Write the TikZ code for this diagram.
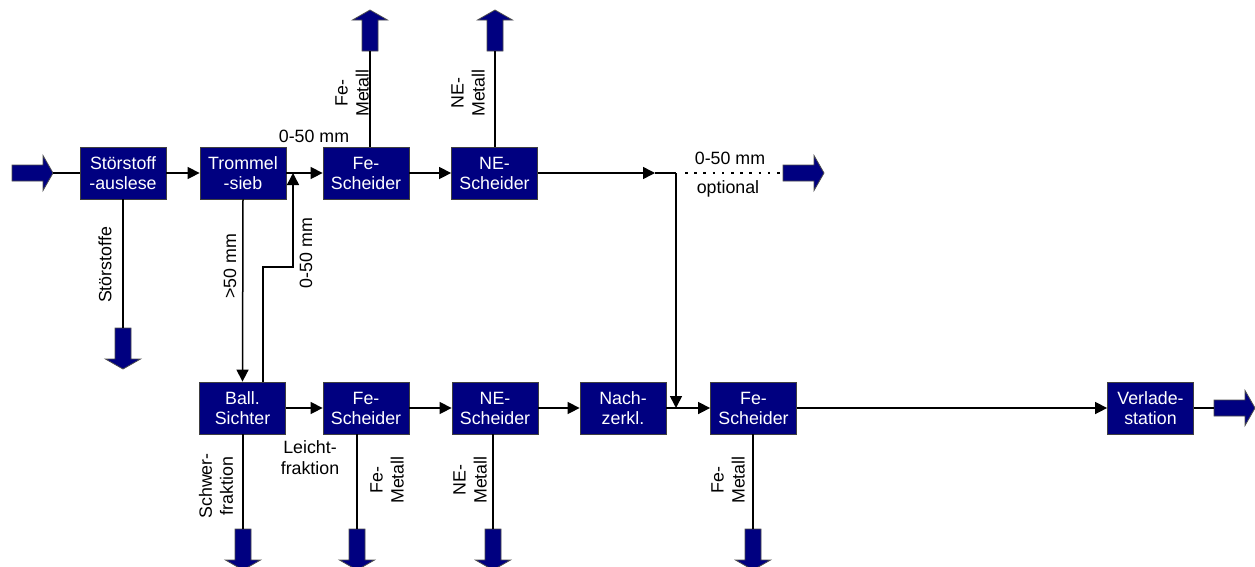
\documentclass[tikz,border=0pt]{standalone}
\usepackage{fontspec}
\setmainfont{Liberation Sans}
\usetikzlibrary{arrows.meta}
\definecolor{navy}{RGB}{0,0,128}
\tikzset{
  box/.style={rectangle, draw=black!75, line width=0.8pt, fill=navy, text=white,
    minimum width=86pt, minimum height=52pt, inner sep=0pt, align=center,
    font=\fontsize{17.8}{20}\selectfont},
  lbl/.style={inner sep=0pt, align=center, font=\fontsize{17.8}{21}\selectfont},
  rlbl/.style={lbl, rotate=90},
  conn/.style={line width=1.5pt},
  arr/.style={conn, -{Triangle[length=12pt,width=12pt]}},
  opt/.style={line width=1.6pt, dash pattern=on 2.5pt off 6.7pt},
  bigarr/.pic={\draw[fill=navy, draw=black!70, line width=0.8pt]
     (0,-8) -- (31,-8) -- (31,-17.5) -- (41,0) -- (31,17.5) -- (31,8) -- (0,8) -- cycle;}
}
\begin{document}
\begin{tikzpicture}[x=1pt,y=-1pt]
\useasboundingbox (0,0) rectangle (1255,566);
% top row
\node[box] (st) at (123,173) {Störstoff\\-auslese};
\node[box] (tr) at (243,173) {Trommel\\-sieb};
\node[box] (fe1) at (366,173) {Fe-\\Scheider};
\node[box] (ne1) at (494.5,173) {NE-\\Scheider};
% bottom row
\node[box] (ba) at (242.5,408) {Ball.\\Sichter};
\node[box] (fe2) at (366,408) {Fe-\\Scheider};
\node[box] (ne2) at (495,408) {NE-\\Scheider};
\node[box] (na) at (623,408) {Nach-\\zerkl.};
\node[box] (fe3) at (753.5,408) {Fe-\\Scheider};
\node[box] (vl) at (1150.5,408) {Verlade-\\station};
% coordinates
\coordinate (in0) at (12,173);
\coordinate (in1) at (53,173);
\coordinate (stD) at (123,328);
\coordinate (feU) at (370,51);
\coordinate (neU) at (495,51);
\coordinate (j1) at (655,173);
\coordinate (j2) at (676,173);
\coordinate (j3) at (676,408);
\coordinate (d1) at (685,173);
\coordinate (oa) at (783,173);
\coordinate (rt) at (293,173);
\coordinate (rm) at (293,267);
\coordinate (baD) at (243,529);
\coordinate (feD) at (357,529);
\coordinate (neD) at (493,529);
\coordinate (fe3D) at (753,529);
\coordinate (vo) at (1214,408);
% big arrows
\pic at (in0) {bigarr};
\pic at (oa) {bigarr};
\pic at (vo) {bigarr};
\pic[rotate=90] at (feU) {bigarr};
\pic[rotate=90] at (neU) {bigarr};
\pic[rotate=-90] at (stD) {bigarr};
\pic[rotate=-90] at (baD) {bigarr};
\pic[rotate=-90] at (feD) {bigarr};
\pic[rotate=-90] at (neD) {bigarr};
\pic[rotate=-90] at (fe3D) {bigarr};
% connectors top
\draw[conn] (in1) -- (st.west);
\draw[arr] (st.east) -- (tr.west);
\draw[arr] (tr.east) -- (fe1.west);
\draw[arr] (fe1.east) -- (ne1.west);
\draw[arr] (ne1.east) -- (j1);
\draw[conn] (j1) -- (j2);
\draw[arr] (j2) -- (j3);
\draw[opt] (d1) -- (oa);
\draw[conn] (st.south) -- (stD);
\draw[conn] (fe1.north -| feU) -- (feU);
\draw[conn] (ne1.north -| neU) -- (neU);
\draw[arr] (tr.south) -- (ba.north);
\draw[arr] (ba.north -| 263,0) |- (rm) -- (rt);
% connectors bottom
\draw[arr] (ba.east) -- (fe2.west);
\draw[arr] (fe2.east) -- (ne2.west);
\draw[arr] (ne2.east) -- (na.west);
\draw[arr] (na.east) -- (fe3.west);
\draw[arr] (fe3.east) -- (vl.west);
\draw[conn] (vl.east) -- (vo);
\draw[conn] (ba.south -| baD) -- (baD);
\draw[conn] (fe2.south -| feD) -- (feD);
\draw[conn] (ne2.south -| neD) -- (neD);
\draw[conn] (fe3.south -| fe3D) -- (fe3D);
% labels
\node[lbl] (l1) at (314,136) {0-50 mm};
\node[rlbl] (l2) at (352,93) {Fe-\\Metall};
\node[rlbl] (l3) at (468,93) {NE-\\Metall};
\node[rlbl] (l4) at (105,265) {Störstoffe};
\node[rlbl] (l5) at (230,266) {>50 mm};
\node[rlbl] (l6) at (306,253) {0-50 mm};
\node[lbl] (l7) at (730,158) {0-50 mm};
\node[lbl] (l8) at (728,189) {optional};
\node[rlbl] (l9) at (216,486) {Schwer-\\fraktion};
\node[lbl] (l10) at (310,458) {Leicht-\\fraktion};
\node[rlbl] (l11) at (387,480) {Fe-\\Metall};
\node[rlbl] (l12) at (470,480) {NE-\\Metall};
\node[rlbl] (l13) at (728,480) {Fe-\\Metall};
\end{tikzpicture}
\end{document}
